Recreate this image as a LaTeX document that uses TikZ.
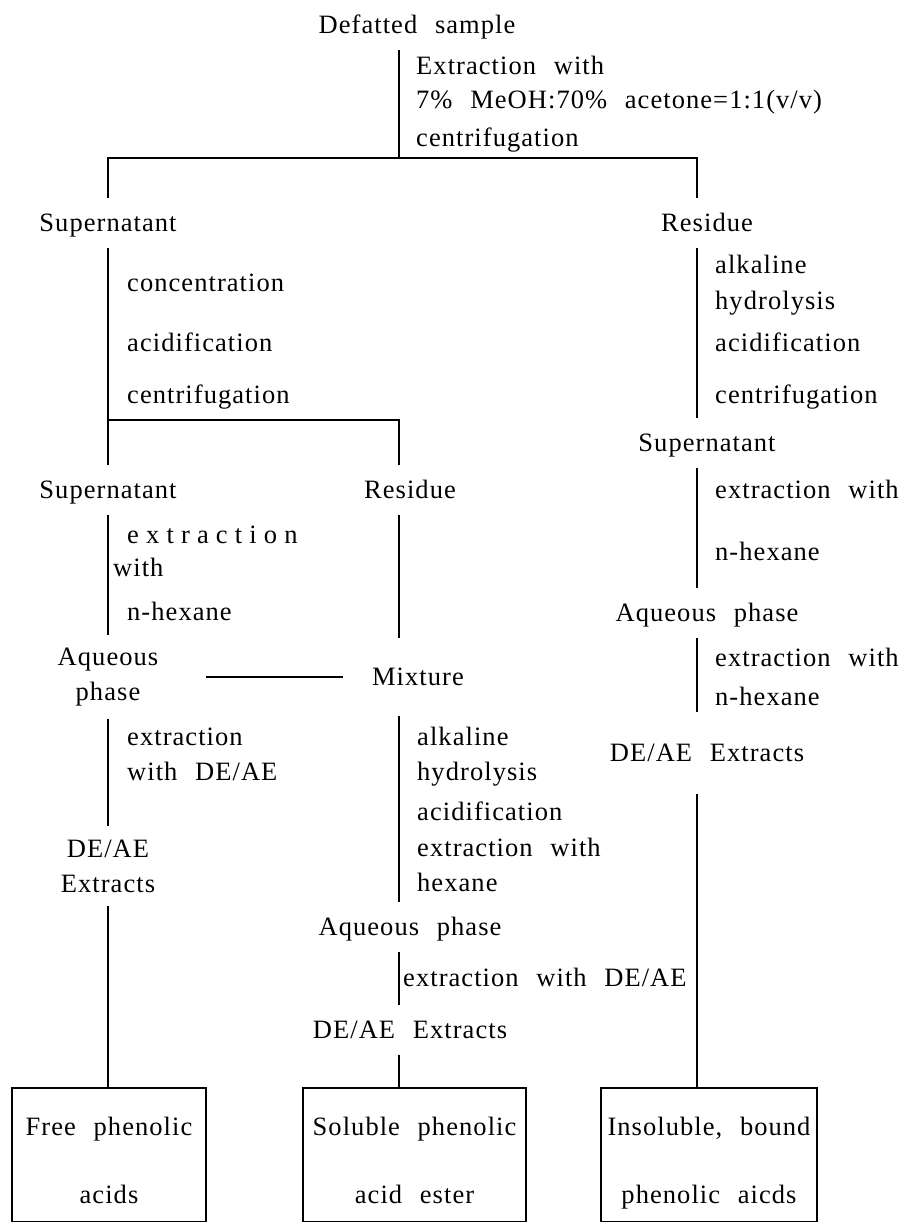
\documentclass[tikz,border=0pt]{standalone}
\usepackage{fontspec}
\setmainfont{Liberation Serif}[LetterSpace=4,WordSpace=2.3]
\newfontfamily\spreadfont{Liberation Serif}[LetterSpace=27]

\begin{document}
\begin{tikzpicture}[x=1pt,y=1pt]
    \tikzstyle{every node}+=[inner sep=0pt, font=\fontsize{26.5}{35}\selectfont]
    \tikzstyle{stage}=[inner ysep=13pt, text height=20pt, text depth=3pt]
    \tikzstyle{pair}=[inner ysep=13pt, align=center]
    \tikzstyle{note}=[anchor=west, text height=20pt, text depth=3pt]
    \tikzstyle{result}=[draw, line width=2.5pt, align=center, minimum height=134pt]
    \tikzstyle{link}=[line width=1.1pt]
    \tikzstyle{heavy link}=[line width=1.9pt]
    \useasboundingbox (0,0) rectangle (903,-1222);
    % stages
    \node [stage] (sample) at (417,-25) {Defatted sample};
    \node [stage] (sup1) at (108,-223) {Supernatant};
    \node [stage] (res1) at (707,-223) {Residue};
    \node [stage] (sup2) at (108,-490) {Supernatant};
    \node [stage] (res2) at (410,-490) {Residue};
    \node [stage] (sup3) at (707,-443) {Supernatant};
    \node [stage] (aq3) at (707,-613) {Aqueous phase};
    \node [stage, inner ysep=29pt] (ext3) at (707,-753) {DE/AE Extracts};
    \node [pair] (aq2) at (108,-677) {Aqueous\\phase};
    \node [stage, inner ysep=27pt] (mix) at (418,-677) {Mixture};
    \node [pair] (ext2) at (108,-866) {DE/AE\\Extracts};
    \node [stage] (aq4) at (410,-927) {Aqueous phase};
    \node [stage] (ext4) at (410,-1030) {DE/AE Extracts};
    % end products
    \node [result, minimum width=194pt] (box1) at (109,-1155) {\rule{0pt}{29pt}Free phenolic\\[33pt]acids};
    \node [result, minimum width=223pt] (box2) at (414.5,-1155) {\rule{0pt}{29pt}Soluble phenolic\\[33pt]acid ester};
    \node [result, minimum width=216pt] (box3) at (709,-1155) {\rule{0pt}{35pt}Insoluble, bound\\[33pt]phenolic aicds};
    % junctions
    \coordinate (t0) at (399,-158);
    \coordinate (tl) at (108,-158);
    \coordinate (tr) at (697,-158);
    \coordinate (m0) at (108,-420);
    \coordinate (mr) at (399,-420);
    % treatments
    \node [note] (n1) at (416,-66) {Extraction with};
    \node [note] (n2) at (416,-100) {7\% MeOH:70\% acetone=1:1(v/v)};
    \node [note] (n3) at (416,-138) {centrifugation};
    \node [note] (n4) at (127,-283) {concentration};
    \node [note] (n5) at (127,-343) {acidification};
    \node [note] (n6) at (127,-395) {centrifugation};
    \node [note] (n7) at (715,-265) {alkaline};
    \node [note] (n8) at (715,-301) {hydrolysis};
    \node [note] (n9) at (715,-343) {acidification};
    \node [note] (n10) at (715,-395) {centrifugation};
    \node [note] (n11) at (715,-490) {extraction with};
    \node [note] (n12) at (715,-552) {n-hexane};
    \node [note] (n13) at (715,-658) {extraction with};
    \node [note] (n14) at (715,-697) {n-hexane};
    \node [note] (n15) at (127,-535) {\spreadfont extraction};
    \node [note] (n16) at (113,-568) {with};
    \node [note] (n17) at (127,-612) {n-hexane};
    \node [note] (n18) at (127,-737) {extraction};
    \node [note] (n19) at (127,-772) {with DE/AE};
    \node [note] (n20) at (417,-737) {alkaline};
    \node [note] (n21) at (417,-772) {hydrolysis};
    \node [note] (n22) at (417,-812) {acidification};
    \node [note] (n23) at (417,-848) {extraction with};
    \node [note] (n24) at (417,-883) {hexane};
    \node [note] (n25) at (403,-978) {extraction with DE/AE};
    % connectors
    \draw [link] (sample.south -| t0) -- (t0);
    \draw [link] (sup1.north -| tl) -- (tl) -- (tr) -- (res1.north -| tr);
    \draw [link] (sup1.south -| tl) -- (m0) -- (mr) -- (res2.north -| mr);
    \draw [link] (m0) -- (sup2.north -| m0);
    \draw [link] (res1.south -| tr) -- (sup3.north -| tr);
    \draw [link] (sup3.south -| tr) -- (aq3.north -| tr);
    \draw [link] (aq3.south -| tr) -- (ext3.north -| tr);
    \draw [link] (ext3.south -| tr) -- (box3.north -| tr);
    \draw [heavy link] (box3.north -| tr) -- ++(0,35);
    \draw [link] (sup2.south -| m0) -- (aq2.north -| m0);
    \draw [link] (aq2.south -| m0) -- (ext2.north -| m0);
    \draw [link] (ext2.south -| m0) -- (box1.north -| m0);
    \draw [heavy link] (box1.north -| m0) -- ++(0,35);
    \draw [link, shorten <=48pt, shorten >=29pt] (aq2.east) -- (mix.west);
    \draw [link] (res2.south -| mr) -- (mix.north -| mr);
    \draw [link] (mix.south -| mr) -- (aq4.north -| mr);
    \draw [link] (aq4.south -| mr) -- (ext4.north -| mr);
    \draw [heavy link] (ext4.south -| mr) -- (box2.north -| mr);
\end{tikzpicture}
\end{document}
